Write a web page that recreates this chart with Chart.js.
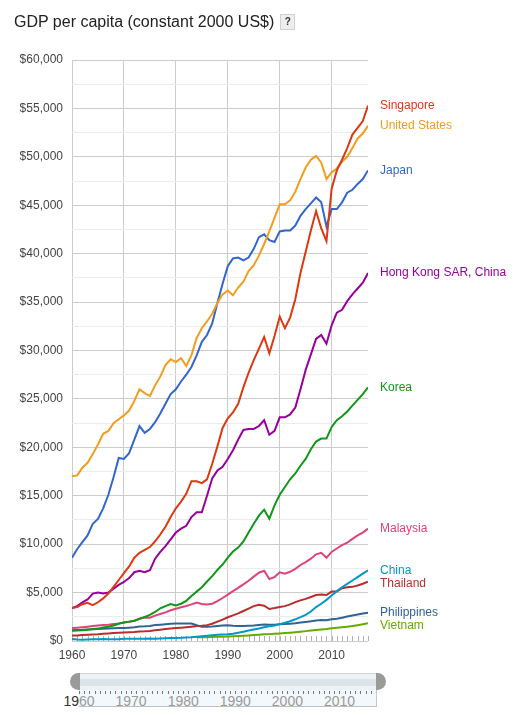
<!DOCTYPE html>
<html>
<head>
<meta charset="utf-8">
<script src="https://cdn.jsdelivr.net/npm/chart.js@4.4.0/dist/chart.umd.min.js"></script>
<style>
  body { margin: 0; background: #fff; font-family: Arial, "Liberation Sans", sans-serif; }
  #wrap { position: relative; width: 519px; height: 715px; overflow: hidden; }
  #chartBox { position: absolute; left: 0; top: 0; width: 519px; height: 670px; }
  #title { position: absolute; left: 14px; top: 13px; font-size: 16px; color: #222; white-space: nowrap; }
  #help { display: inline-block; width: 13px; height: 14px; margin-left: 6px; background: #eee; border: 1px solid #d0d0d0;
          font-size: 10px; font-weight: bold; text-align: center; line-height: 14px; color: #333; vertical-align: 2px; }
  .handle { position: absolute; top: 673px; width: 10px; height: 17px; background: #9a9a9a; }
  #track { position: absolute; left: 80px; top: 673px; width: 296px; height: 16px; border-top: 1px solid #cfd6d9;
           background: linear-gradient(#edf3f5 0, #edf3f5 30%, #dbe4e8 30%, #dbe4e8 72%, #edf3f5 72%); }
  #range { position: absolute; left: 79px; top: 690px; width: 297px; height: 16px; background: #f2f8fb;
           border-right: 1px solid #c8c8c8; border-bottom: 1px solid #c0c0c0; }
  #dots { position: absolute; left: 0; top: 1px; width: 100%; height: 3px;
          background: repeating-linear-gradient(to right, #777 0, #777 1px, transparent 1px, transparent 5.21px); }
  .rlab { position: absolute; top: 693px; font-size: 14px; color: #9a9a9a; transform: translateX(-50%); }
</style>
</head>
<body>
<div id="wrap">
  <div id="chartBox"><canvas id="gdpChart"></canvas></div>
  <div id="title">GDP per capita (constant 2000 US$)<span id="help">?</span></div>
  <div id="track"></div>
  <div class="handle" style="left:70px;border-radius:9px 0 0 9px"></div>
  <div class="handle" style="left:376px;border-radius:0 9px 9px 0"></div>
  <div id="range"><div id="dots"></div></div>
</div>
<script>
// years on the x axis
const years = [
  1960, 1961, 1962, 1963, 1964, 1965, 1966, 1967, 1968, 1969,
  1970, 1971, 1972, 1973, 1974, 1975, 1976, 1977, 1978, 1979,
  1980, 1981, 1982, 1983, 1984, 1985, 1986, 1987, 1988, 1989,
  1990, 1991, 1992, 1993, 1994, 1995, 1996, 1997, 1998, 1999,
  2000, 2001, 2002, 2003, 2004, 2005, 2006, 2007, 2008, 2009,
  2010, 2011, 2012, 2013, 2014, 2015, 2016, 2017
];
const decadeTicks = [1960, 1970, 1980, 1990, 2000, 2010];

// GDP per capita
const singapore = [
  3400, 3500, 3800, 3950, 3700, 4000, 4400, 4900, 5600, 6300,
  7000, 7700, 8600, 9100, 9400, 9700, 10300, 11000, 11800, 12800,
  13700, 14400, 15200, 16500, 16500, 16300, 16700, 18300, 20100, 22000,
  23000, 23600, 24500, 26200, 27700, 29000, 30200, 31400, 29700, 31500,
  33500, 32300, 33400, 35300, 38000, 40200, 42400, 44400, 42600, 41300,
  46700, 48600, 49700, 50900, 52300, 53000, 53700, 55300
];
const unitedStates = [
  17000, 17100, 17900, 18400, 19300, 20300, 21400, 21700, 22500, 22900,
  23300, 23800, 24800, 26000, 25600, 25300, 26400, 27300, 28500, 29100,
  28800, 29200, 28400, 29500, 31300, 32300, 33000, 33800, 34900, 35800,
  36200, 35700, 36500, 37100, 38200, 38800, 39800, 41000, 42300, 43700,
  45100, 45100, 45500, 46400, 47700, 48900, 49700, 50100, 49400, 47700,
  48400, 48800, 49500, 50000, 50900, 51900, 52400, 53200
];
const japan = [
  8600, 9500, 10200, 10900, 12100, 12600, 13700, 15100, 16900, 18900,
  18800, 19400, 20800, 22200, 21500, 21900, 22600, 23500, 24500, 25500,
  26000, 26800, 27500, 28300, 29500, 30900, 31600, 32800, 34900, 36900,
  38700, 39500, 39600, 39300, 39600, 40500, 41700, 42000, 41400, 41200,
  42300, 42400, 42400, 42900, 43900, 44600, 45200, 45800, 45300, 42800,
  44600, 44600, 45300, 46300, 46600, 47200, 47700, 48600
];
const hongKong = [
  3400, 3600, 4000, 4300, 4900, 5000, 4900, 5000, 5400, 5800,
  6100, 6500, 7100, 7250, 7100, 7300, 8500, 9200, 9800, 10500,
  11200, 11600, 11900, 12800, 13300, 13300, 15000, 16800, 17600, 18000,
  18800, 19700, 20800, 21800, 21900, 21900, 22200, 22800, 21300, 21700,
  23100, 23100, 23400, 24100, 26000, 28000, 29600, 31200, 31600, 30700,
  32600, 33900, 34200, 35100, 35800, 36400, 37000, 38000
];
const korea = [
  1050, 1080, 1100, 1160, 1230, 1280, 1400, 1470, 1600, 1780,
  1900, 2000, 2080, 2300, 2480, 2690, 3000, 3380, 3600, 3820,
  3660, 3850, 4150, 4650, 5100, 5550, 6140, 6700, 7350, 7900,
  8600, 9240, 9650, 10280, 11200, 12100, 12950, 13560, 12630, 14000,
  15100, 15900, 16700, 17300, 18100, 18800, 19800, 20600, 20900, 20900,
  22100, 22800, 23200, 23700, 24300, 24900, 25500, 26200
];
const malaysia = [
  1330, 1380, 1430, 1480, 1540, 1600, 1650, 1680, 1760, 1820,
  1900, 1990, 2100, 2300, 2420, 2400, 2620, 2780, 2950, 3170,
  3330, 3480, 3620, 3780, 3970, 3830, 3760, 3850, 4120, 4440,
  4790, 5150, 5480, 5850, 6220, 6650, 7050, 7250, 6400, 6600,
  7100, 6950, 7150, 7450, 7850, 8150, 8500, 8950, 9100, 8600,
  9200, 9550, 9900, 10150, 10550, 10900, 11200, 11600
];
const china = [
  200, 150, 140, 150, 170, 190, 200, 190, 180, 190,
  220, 230, 230, 240, 240, 250, 240, 260, 280, 300,
  320, 330, 360, 390, 450, 500, 540, 590, 650, 670,
  690, 750, 850, 960, 1080, 1190, 1300, 1410, 1510, 1610,
  1740, 1880, 2040, 2240, 2460, 2700, 3050, 3500, 3850, 4250,
  4700, 5150, 5550, 5900, 6250, 6600, 6950, 7300
];
const thailand = [
  560, 580, 610, 640, 670, 700, 750, 780, 820, 860,
  880, 900, 920, 980, 1000, 1040, 1100, 1170, 1250, 1290,
  1330, 1380, 1430, 1480, 1540, 1580, 1640, 1780, 2000, 2200,
  2450, 2650, 2850, 3100, 3350, 3600, 3750, 3650, 3300, 3400,
  3520, 3600, 3780, 4010, 4200, 4350, 4540, 4740, 4800, 4750,
  5100, 5100, 5450, 5560, 5590, 5740, 5910, 6130
];
const philippines = [
  1100, 1130, 1150, 1200, 1210, 1240, 1260, 1290, 1320, 1340,
  1350, 1380, 1410, 1500, 1520, 1560, 1640, 1680, 1720, 1770,
  1800, 1810, 1820, 1800, 1620, 1470, 1470, 1500, 1560, 1610,
  1620, 1570, 1550, 1550, 1580, 1610, 1660, 1710, 1670, 1690,
  1740, 1750, 1790, 1840, 1920, 1970, 2030, 2120, 2170, 2150,
  2250, 2300, 2410, 2530, 2640, 2740, 2850, 2930
];
const vietnam = [
  null, null, null, null, null, null, null, null, null, null,
  null, null, null, null, null, null, null, null, null, null,
  null, null, null, null, 380, 390, 400, 410, 430, 450,
  460, 480, 510, 540, 570, 610, 650, 690, 710, 740,
  780, 820, 860, 910, 960, 1020, 1080, 1140, 1190, 1240,
  1310, 1370, 1420, 1480, 1550, 1630, 1720, 1830
];

const seriesNames = ['Singapore', 'United States', 'Japan', 'Hong Kong SAR, China', 'Korea',
                     'Malaysia', 'China', 'Thailand', 'Philippines', 'Vietnam'];
const seriesData = [singapore, unitedStates, japan, hongKong, korea,
                    malaysia, china, thailand, philippines, vietnam];
const seriesColors = ['#dc3912', '#f39c1e', '#3366cc', '#990099', '#109618',
                      '#dd4477', '#0099c6', '#b82e2e', '#316395', '#66aa00'];

// little year ticks sitting on the x axis, inside the plot
const yearTicks = {
  id: 'yearTicks',
  beforeDatasetsDraw(chart) {
    const ctx = chart.ctx, x = chart.scales.x, b = chart.chartArea.bottom;
    ctx.save();
    ctx.strokeStyle = '#b0b0b0';
    ctx.lineWidth = 1;
    years.forEach(yr => {
      const px = Math.round(x.getPixelForValue(yr)) + 0.5;
      ctx.beginPath();
      ctx.moveTo(px, b - 5);
      ctx.lineTo(px, b);
      ctx.stroke();
    });
    ctx.restore();
  }
};

// country names at the end of each line
const endLabels = {
  id: 'endLabels',
  afterDatasetsDraw(chart) {
    const ctx = chart.ctx;
    const items = chart.data.datasets.map((ds, i) => {
      const pts = chart.getDatasetMeta(i).data;
      return { text: ds.label, color: ds.borderColor, y: pts[pts.length - 1].y };
    }).sort((a, b) => a.y - b.y);
    for (let i = 1; i < items.length; i++) {
      if (items[i].y - items[i - 1].y < 13) items[i].y = items[i - 1].y + 13;
    }
    ctx.save();
    ctx.font = '12px Arial, "Liberation Sans", sans-serif';
    ctx.textBaseline = 'middle';
    ctx.textAlign = 'left';
    items.forEach(it => {
      ctx.fillStyle = it.color;
      ctx.fillText(it.text, chart.chartArea.right + 12, it.y);
    });
    ctx.restore();
  }
};

Chart.defaults.font.family = 'Arial, "Liberation Sans", sans-serif';
Chart.defaults.font.size = 12;
Chart.defaults.color = '#444';

new Chart(document.getElementById('gdpChart'), {
  type: 'line',
  data: {
    datasets: seriesNames.map((name, i) => ({
      label: name,
      data: years.map((yr, j) => ({ x: yr, y: seriesData[i][j] })),
      borderColor: seriesColors[i],
      borderWidth: 2,
      pointRadius: 0,
      tension: 0,
      fill: false
    }))
  },
  options: {
    responsive: true,
    maintainAspectRatio: false,
    animation: false,
    layout: { padding: { left: 0, right: 151, top: 60, bottom: 0 } },
    plugins: { legend: { display: false }, tooltip: { enabled: false } },
    scales: {
      x: {
        type: 'linear',
        min: 1960,
        max: 2017,
        afterBuildTicks: scale => { scale.ticks = decadeTicks.map(v => ({ value: v })); },
        afterFit: scale => { scale.height = 29; },
        grid: { color: '#cccccc', drawTicks: false },
        border: { display: false },
        ticks: { padding: 7, color: '#444', callback: v => String(v) }
      },
      y: {
        min: 0,
        max: 60000,
        afterFit: scale => { scale.width = 72; },
        grid: {
          drawTicks: false,
          color: c => (c.tick && c.tick.value % 5000 === 0) ? '#cccccc' : '#ececec'
        },
        border: { display: false },
        ticks: {
          stepSize: 2500,
          autoSkip: false,
          padding: 9,
          color: '#444',
          callback: v => v % 5000 === 0 ? '$' + v.toLocaleString('en-US') : ''
        }
      }
    }
  },
  plugins: [yearTicks, endLabels]
});

// labels under the range slider
const wrap = document.getElementById('wrap');
decadeTicks.forEach(d => {
  const el = document.createElement('div');
  el.className = 'rlab';
  el.style.left = (79 + (d - 1960) * 297 / 57) + 'px';
  el.innerHTML = d === 1960 ? '<span style="color:#333">19</span>60' : String(d);
  wrap.appendChild(el);
});
</script>
</body>
</html>
